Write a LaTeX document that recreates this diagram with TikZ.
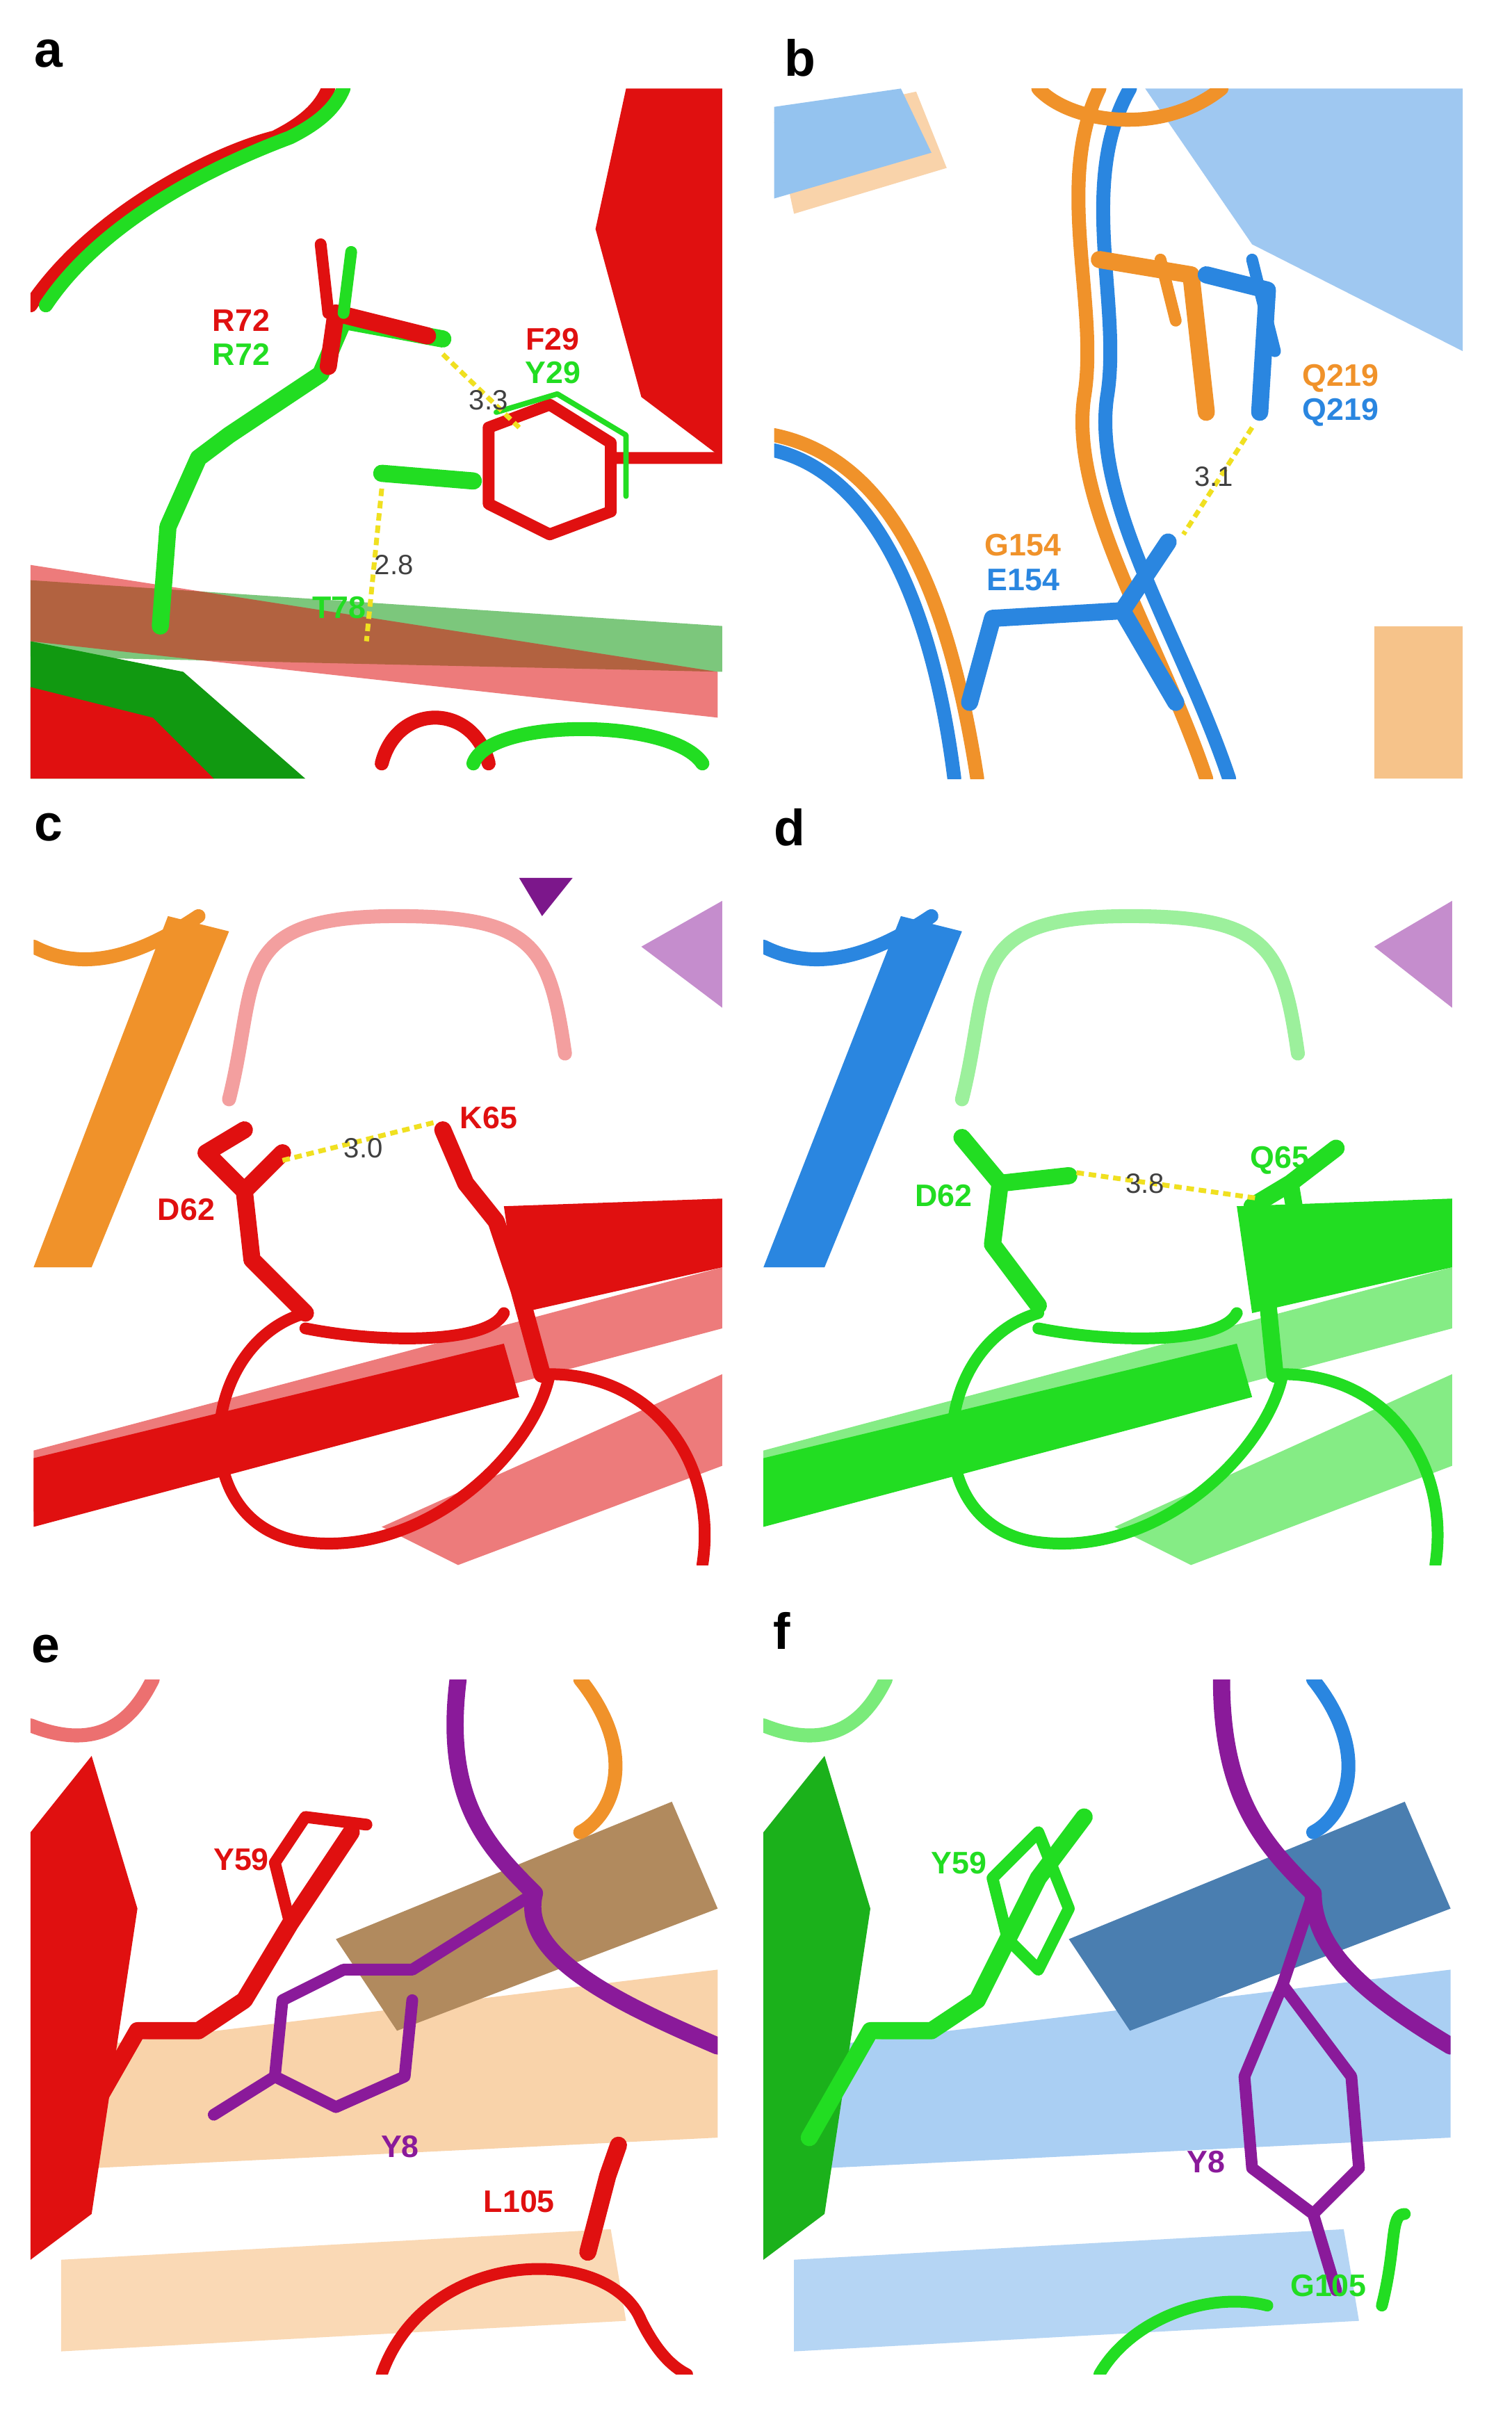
\documentclass[tikz,border=0pt]{standalone}
\usepackage{fontspec}
\setmainfont{Liberation Sans}
\definecolor{rd}{HTML}{E01010}
\definecolor{gr}{HTML}{22DD22}
\definecolor{dg}{HTML}{119911}
\definecolor{og}{HTML}{F0922A}
\definecolor{bl}{HTML}{2A86E0}
\definecolor{pu}{HTML}{8A1A9A}
\definecolor{yl}{HTML}{F0E020}
\tikzset{
 stick/.style={line width=32pt,line cap=round,line join=round},
 thin/.style={line width=22pt},
 rib/.style={line width=26pt,line cap=round},
 sheet/.style={opacity=0.55},
 hb/.style={yl,line width=9pt,dash pattern=on 14pt off 9pt},
 lab/.style={font=\fontsize{58}{58}\selectfont\bfseries},
 dist/.style={font=\fontsize{52}{52}\selectfont,text=black!75},
 plet/.style={font=\fontsize{95}{95}\selectfont\bfseries}
}
\begin{document}
\begin{tikzpicture}[x=0.1cm,y=-0.1cm]
\useasboundingbox (0,0) rectangle (990,1583);
\fill[white] (0,0) rectangle (990,1583);
% letters
\node[plet] (la) at (32,35) {a};
\node[plet] (lb) at (524,38) {b};
\node[plet] (lc) at (32,542) {c};
\node[plet] (ld) at (517,542) {d};
\node[plet] (le) at (30,1080) {e};
\node[plet] (lf) at (512,1068) {f};
% ---------------- a
\begin{scope}
\clip (20,58) rectangle (473,510);
\fill[dg,sheet] (20,380) -- (473,410) -- (473,440) -- (20,430) -- cycle;
\fill[rd,sheet] (20,370) -- (470,440) -- (470,470) -- (20,420) -- cycle;
\fill[dg] (20,420) -- (120,440) -- (200,510) -- (20,510) -- cycle;
\fill[rd] (20,450) -- (100,470) -- (140,510) -- (20,510) -- cycle;
\fill[rd] (410,58) -- (473,58) -- (473,300) -- (420,260) -- (390,150) -- cycle;
\draw[rib,rd] (20,200) .. controls (60,140) and (140,100) .. (180,90) .. controls (200,80) and (210,70) .. (215,58);
\draw[rib,gr] (30,200) .. controls (70,140) and (150,105) .. (190,90) .. controls (210,80) and (220,70) .. (225,58);
\draw[rib,rd] (250,500) .. controls (260,460) and (310,460) .. (320,500);
\draw[rib,gr] (310,500) .. controls (320,470) and (440,470) .. (460,500);
\draw[stick,gr] (105,410) -- (110,345) -- (130,300) -- (150,285) -- (210,245) -- (225,210) -- (290,222);
\draw[stick,rd] (215,240) -- (220,205) -- (280,220);
\draw[stick,rd,thin] (215,205) -- (210,160);
\draw[stick,gr,thin] (225,205) -- (230,165);
\draw[stick,gr] (250,310) -- (310,315);
\draw[stick,rd,thin] (320,280) -- (360,265) -- (400,290) -- (400,335) -- (360,350) -- (320,330) -- cycle (400,300) -- (473,300);
\draw[stick,gr,line width=10pt] (325,270) -- (365,258) -- (410,285) -- (410,325);
\draw[hb] (290,232) -- (340,280);
\draw[hb] (250,320) -- (240,420);
\end{scope}
\node[dist] (d33) at (320,262) {3.3};
\node[dist] (d28) at (258,370) {2.8};
\node[lab,text=rd] (r72a) at (158,210) {R72};
\node[lab,text=gr] (r72b) at (158,232) {R72};
\node[lab,text=rd] (f29) at (362,222) {F29};
\node[lab,text=gr] (y29) at (362,244) {Y29};
\node[lab,text=gr] (t78) at (222,398) {T78};
% ---------------- b
\begin{scope}
\clip (507,58) rectangle (958,510);
\fill[bl!45] (750,58) -- (958,58) -- (958,230) -- (820,160) -- cycle;
\fill[og!40] (507,80) -- (600,60) -- (620,110) -- (520,140) -- cycle;
\fill[bl!50] (507,70) -- (590,58) -- (610,100) -- (507,130) -- cycle;
\draw[rib,og] (507,285) .. controls (580,300) and (620,380) .. (640,510);
\draw[rib,bl] (507,295) .. controls (570,310) and (610,390) .. (625,510);
\draw[rib,og] (720,58) .. controls (690,120) and (720,200) .. (710,260) .. controls (700,330) and (760,420) .. (790,510);
\draw[rib,bl] (740,58) .. controls (705,120) and (735,200) .. (725,260) .. controls (715,330) and (775,420) .. (805,510);
\draw[rib,og] (680,58) .. controls (700,80) and (760,90) .. (800,58);
\draw[stick,og] (720,170) -- (780,180) -- (790,270);
\draw[stick,og,thin] (760,170) -- (770,210);
\draw[stick,bl] (790,180) -- (830,190) -- (825,270);
\draw[stick,bl,thin] (820,170) -- (835,230);
\draw[stick,bl] (635,460) -- (650,405) -- (735,400) -- (765,355);
\draw[stick,bl] (735,400) -- (770,460);
\draw[hb] (820,280) -- (775,350);
\fill[og,sheet] (900,410) rectangle (958,510);
\end{scope}
\node[dist] (d31) at (795,312) {3.1};
\node[lab,text=og] (q219a) at (878,248) {Q219};
\node[lab,text=bl] (q219b) at (878,270) {Q219};
\node[lab,text=og] (g154) at (670,357) {G154};
\node[lab,text=bl] (e154) at (670,380) {E154};
% ---------------- c
\begin{scope}
\clip (22,575) rectangle (473,1025);
\fill[og] (22,830) -- (110,600) -- (150,610) -- (60,830) -- cycle;
\draw[rib,og] (22,620) .. controls (60,640) and (100,620) .. (130,600);
\fill[pu!50] (420,620) -- (473,590) -- (473,660) -- cycle;
\fill[pu!90!black] (340,575) -- (375,575) -- (355,600) -- cycle;
\fill[rd,sheet] (22,950) -- (473,830) -- (473,870) -- (22,990) -- cycle;
\fill[rd] (22,955) -- (330,880) -- (340,915) -- (22,1000) -- cycle;
\fill[rd,sheet] (250,1000) -- (473,900) -- (473,960) -- (300,1025) -- cycle;
\fill[rd] (330,790) -- (473,785) -- (473,830) -- (340,860) -- cycle;
\draw[rib,rd!40] (150,720) .. controls (170,640) and (150,600) .. (260,600) .. controls (350,600) and (360,620) .. (370,690);
\draw[stick,rd,thin] (200,860) .. controls (130,880) and (120,1000) .. (200,1010) .. controls (280,1020) and (350,950) .. (360,900) .. controls (430,900) and (470,960) .. (460,1025);
\draw[stick,rd,thin] (200,870) .. controls (250,880) and (320,880) .. (330,860);
\draw[stick,rd] (200,860) -- (165,825) -- (160,780) -- (135,755) -- (160,740) (160,780) -- (185,755);
\draw[stick,rd] (355,900) -- (340,845) -- (325,800) -- (305,775) -- (290,740);
\draw[hb] (185,760) -- (285,735);
\end{scope}
\node[dist] (d30) at (238,752) {3.0};
\node[lab,text=rd] (d62c) at (122,792) {D62};
\node[lab,text=rd] (k65) at (320,732) {K65};
% ---------------- d
\begin{scope}
\clip (500,575) rectangle (951,1025);
\fill[bl] (500,830) -- (590,600) -- (630,610) -- (540,830) -- cycle;
\draw[rib,bl] (500,620) .. controls (540,640) and (580,620) .. (610,600);
\fill[pu!50] (900,620) -- (951,590) -- (951,660) -- cycle;
\fill[gr,sheet] (500,950) -- (951,830) -- (951,870) -- (500,990) -- cycle;
\fill[gr] (500,955) -- (810,880) -- (820,915) -- (500,1000) -- cycle;
\fill[gr,sheet] (730,1000) -- (951,900) -- (951,960) -- (780,1025) -- cycle;
\fill[gr] (810,790) -- (951,785) -- (951,830) -- (820,860) -- cycle;
\draw[rib,gr!45] (630,720) .. controls (650,640) and (630,600) .. (740,600) .. controls (830,600) and (840,620) .. (850,690);
\draw[stick,gr,thin] (680,860) .. controls (610,880) and (600,1000) .. (680,1010) .. controls (760,1020) and (830,950) .. (840,900) .. controls (910,900) and (950,960) .. (940,1025);
\draw[stick,gr,thin] (680,870) .. controls (730,880) and (800,880) .. (810,860);
\draw[stick,gr] (680,855) -- (650,815) -- (655,775) -- (630,745) (655,775) -- (700,770);
\draw[stick,gr] (835,900) -- (830,850) -- (850,805) -- (845,775) -- (820,790) (845,775) -- (875,752);
\draw[hb] (705,768) -- (825,785);
\end{scope}
\node[dist] (d38) at (750,775) {3.8};
\node[lab,text=gr] (d62d) at (618,783) {D62};
\node[lab,text=gr] (q65) at (838,760) {Q65};
% ---------------- e
\begin{scope}
\clip (20,1100) rectangle (470,1555);
\fill[og!40] (60,1340) -- (470,1290) -- (470,1400) -- (60,1420) -- cycle;
\fill[og!60!black!70] (220,1270) -- (440,1180) -- (470,1250) -- (260,1330) -- cycle;
\fill[og!35] (40,1480) -- (400,1460) -- (410,1520) -- (40,1540) -- cycle;
\fill[rd] (20,1200) -- (60,1150) -- (90,1250) -- (60,1450) -- (20,1480) -- cycle;
\draw[rib,rd!60] (20,1130) .. controls (70,1150) and (90,1120) .. (100,1100);
\draw[rib,og] (380,1100) .. controls (420,1150) and (400,1190) .. (380,1200);
\draw[stick,rd] (50,1400) -- (90,1330) -- (130,1330) -- (160,1310) -- (190,1260) -- (210,1230) -- (230,1200);
\draw[stick,rd,thin] (190,1260) -- (180,1220) -- (200,1190) -- (240,1195);
\draw[stick,pu] (300,1100) .. controls (290,1180) and (320,1210) .. (350,1240) .. controls (340,1280) and (400,1310) .. (470,1340);
\draw[stick,pu,thin] (350,1240) -- (270,1290) -- (225,1290) -- (185,1310) -- (180,1360) -- (140,1385) (180,1360) -- (220,1380) -- (265,1360) -- (270,1310);
\draw[stick,rd] (385,1475) -- (398,1425) -- (405,1405);
\draw[stick,rd,thin] (250,1555) .. controls (280,1470) and (400,1470) .. (420,1520) .. controls (430,1540) and (440,1550) .. (450,1555);
\end{scope}
\node[lab,text=rd] (y59e) at (158,1218) {Y59};
\node[lab,text=pu] (y8e) at (262,1406) {Y8};
\node[lab,text=rd] (l105) at (340,1442) {L105};
% ---------------- f
\begin{scope}
\clip (500,1100) rectangle (950,1555);
\fill[bl!40] (540,1340) -- (950,1290) -- (950,1400) -- (540,1420) -- cycle;
\fill[bl!70!black!80] (700,1270) -- (920,1180) -- (950,1250) -- (740,1330) -- cycle;
\fill[bl!35] (520,1480) -- (880,1460) -- (890,1520) -- (520,1540) -- cycle;
\fill[gr!80!black] (500,1200) -- (540,1150) -- (570,1250) -- (540,1450) -- (500,1480) -- cycle;
\draw[rib,gr!60] (500,1130) .. controls (550,1150) and (570,1120) .. (580,1100);
\draw[rib,bl] (860,1100) .. controls (900,1150) and (880,1190) .. (860,1200);
\draw[stick,gr] (530,1400) -- (570,1330) -- (610,1330) -- (640,1310) -- (660,1270) -- (680,1230) -- (710,1190);
\draw[stick,gr,thin] (660,1270) -- (650,1230) -- (680,1200) -- (700,1250) -- (680,1290) -- (660,1270);
\draw[stick,pu] (800,1100) .. controls (800,1180) and (830,1210) .. (860,1240) .. controls (860,1280) and (900,1310) .. (950,1340);
\draw[stick,pu,thin] (860,1240) -- (840,1300) -- (815,1360) -- (820,1420) -- (860,1450) -- (890,1420) -- (885,1360) -- (840,1300) (860,1450) -- (875,1500);
\draw[stick,gr,thin] (720,1555) .. controls (740,1520) and (790,1500) .. (830,1510) (905,1510) .. controls (915,1470) and (910,1450) .. (920,1450);
\end{scope}
\node[lab,text=gr] (y59f) at (628,1220) {Y59};
\node[lab,text=pu] (y8f) at (790,1416) {Y8};
\node[lab,text=gr] (g105) at (870,1497) {G105};
\end{tikzpicture}
\end{document}
